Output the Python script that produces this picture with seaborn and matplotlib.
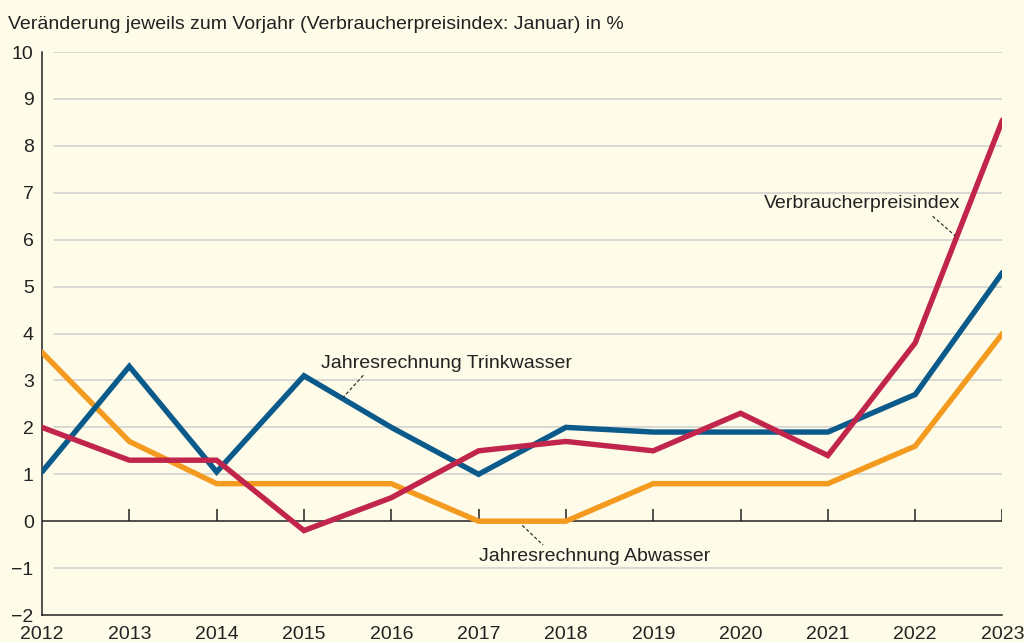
import numpy as np
import pandas as pd
import matplotlib.pyplot as plt
import seaborn as sns

# values
years = list(range(2012, 2024))
trinkwasser = [1.05, 3.3, 1.05, 3.1, 2.0, 1.0, 2.0, 1.9, 1.9, 1.9, 2.7, 5.3]
abwasser = [3.6, 1.7, 0.8, 0.8, 0.8, 0.0, 0.0, 0.8, 0.8, 0.8, 1.6, 4.0]
vpi = [2.0, 1.3, 1.3, -0.2, 0.5, 1.5, 1.7, 1.5, 2.3, 1.4, 3.8, 8.55]

series_names = ["Jahresrechnung Abwasser", "Jahresrechnung Trinkwasser", "Verbraucherpreisindex"]
series_colors = ["#f39a1f", "#0b5a8c", "#c1254b"]
y_ticks = list(range(-2, 11))

df = pd.DataFrame({
    "Jahr": years * 3,
    "Wert": abwasser + trinkwasser + vpi,
    "Reihe": [series_names[0]] * 12 + [series_names[1]] * 12 + [series_names[2]] * 12,
})

sns.set_style("white")
plt.rcParams["font.family"] = ["Liberation Sans", "DejaVu Sans"]
bg = "#fefbe8"
ink = "#222222"

fig = plt.figure(figsize=(10.24, 6.42), dpi=100, facecolor=bg)
ax = fig.add_axes([0.041, 0.042, 0.938, 0.877], facecolor=bg)

sns.lineplot(data=df, x="Jahr", y="Wert", hue="Reihe", hue_order=series_names,
             palette=series_colors, linewidth=3.9, legend=False, ax=ax,
             solid_joinstyle="miter", zorder=3)

ax.set_xlim(2012, 2023)
ax.set_ylim(-2, 10)
ax.set_xlabel("")
ax.set_ylabel("")

# gridlines except at 0 and -2
for v in y_ticks:
    if v not in (0, -2):
        ax.axhline(v, xmin=0.0125, color="#cfcfcf", linewidth=1.1, zorder=1)
ax.axhline(0, color=ink, linewidth=1.1, zorder=2)
# year ticks on the zero line, pointing up
ax.vlines(years[1:], 0, 0.25, color=ink, linewidth=1.1, zorder=2)

ax.set_yticks(y_ticks)
ax.set_yticklabels([str(v).replace("-", "\u2212") for v in y_ticks])
ax.set_xticks(years)
ax.set_xticklabels([str(y) for y in years])
ax.tick_params(axis="y", direction="in", length=8.6, width=1.1, color=ink,
               labelsize=14, labelcolor=ink, pad=6)
ax.tick_params(axis="x", length=0, labelsize=14, labelcolor=ink, pad=8)

for s in ["top", "right"]:
    ax.spines[s].set_visible(False)
for s in ["left", "bottom"]:
    ax.spines[s].set_color(ink)
    ax.spines[s].set_linewidth(1.1)

# series labels with dashed leaders
lbl = dict(fontsize=14, color=ink, va="center", zorder=5)
ax.text(2022.52, 6.78, "Verbraucherpreisindex", ha="right", **lbl)
ax.plot([2022.2, 2022.46], [6.5, 6.08], color=ink, linewidth=0.8, linestyle=(0, (3, 2)), zorder=4)
ax.text(2015.19, 3.37, "Jahresrechnung Trinkwasser", ha="left", **lbl)
ax.plot([2015.68, 2015.45], [3.11, 2.64], color=ink, linewidth=0.8, linestyle=(0, (3, 2)), zorder=4)
ax.text(2017.0, -0.75, "Jahresrechnung Abwasser", ha="left", **lbl)
ax.plot([2017.5, 2017.74], [-0.09, -0.51], color=ink, linewidth=0.8, linestyle=(0, (3, 2)), zorder=4)

fig.text(0.008, 0.962, "Veränderung jeweils zum Vorjahr (Verbraucherpreisindex: Januar) in %",
         fontsize=14, color=ink, va="center", ha="left")

fig.savefig("out.png", dpi=100, facecolor=bg)
